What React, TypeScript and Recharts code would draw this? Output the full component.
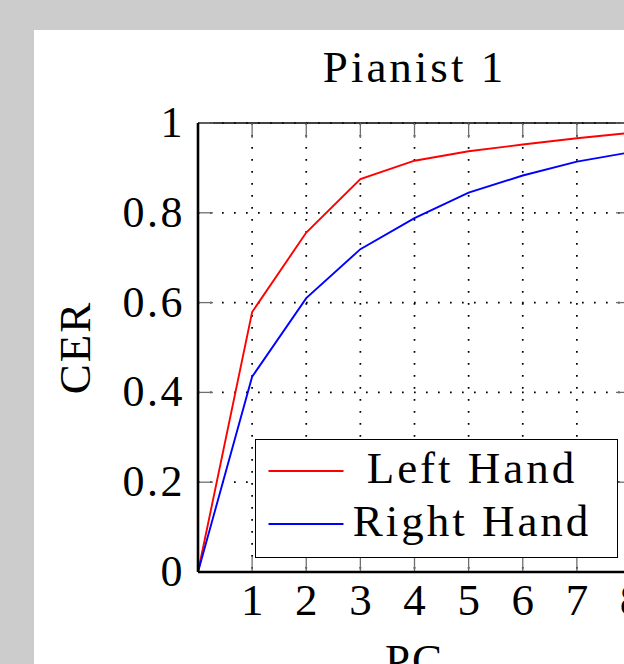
import React from 'react';
import { LineChart, Line, XAxis, YAxis, CartesianGrid, Legend } from 'recharts';

// ---- data ----
const pcValues = [0, 1, 2, 3, 4, 5, 6, 7, 8];
const leftHand = [0, 0.579, 0.756, 0.875, 0.916, 0.937, 0.952, 0.966, 0.978];
const rightHand = [0, 0.435, 0.61, 0.719, 0.788, 0.845, 0.883, 0.914, 0.935];
const xTicks = [1, 2, 3, 4, 5, 6, 7, 8];
const yTicks = [0, 0.2, 0.4, 0.6, 0.8, 1];
const seriesNames = ['Left Hand', 'Right Hand'];
const chartTitle = 'Pianist 1';
const xLabel = 'PC';
const yLabel = 'CER';

const data = pcValues.map((pc, i) => ({ pc, left: leftHand[i], right: rightHand[i] }));

const FONT = "'Liberation Serif', 'Times New Roman', serif";
const TICK_GRAY = '#6f6f6f';

const XTick = (props: any) => (
  <text x={props.x} y={props.y} dy={43} textAnchor="middle" fontFamily={FONT} fontSize={45} fill="#000">
    {props.payload.value}
  </text>
);

const YTick = (props: any) => (
  <text x={props.x} y={props.y} dy={14} textAnchor="end" fontFamily={FONT} fontSize={44} fill="#000" style={{ letterSpacing: 2.5 }}>
    {String(props.payload.value)}
  </text>
);

const EmptyTick = () => <g />;

const renderYLabel = (props: any) => {
  const vb = props.viewBox ?? { x: 0, y: 0, width: 0, height: 0 };
  const cx = vb.x + vb.width - 108;
  const cy = vb.y + vb.height / 2;
  return (
    <text x={cx} y={cy} transform={`rotate(-90, ${cx}, ${cy})`} textAnchor="middle" fontFamily={FONT} fontSize={45} fill="#000" style={{ letterSpacing: 2 }}>
      {yLabel}
    </text>
  );
};

const renderXLabel = (props: any) => {
  const vb = props.viewBox ?? { x: 0, y: 0, width: 0, height: 0 };
  const cx = vb.x + vb.width / 2;
  return (
    <text x={cx} y={vb.y + 103} textAnchor="middle" fontFamily={FONT} fontSize={45} fill="#000" style={{ letterSpacing: 2 }}>
      {xLabel}
    </text>
  );
};

const LegendBox = (props: any) => {
  const payload = props.payload || [];
  return (
    <div
      style={{
        boxSizing: 'border-box',
        width: 363,
        height: 119,
        border: '1.5px solid #000',
        background: '#fff',
        paddingTop: 4,
      }}
    >
      {payload.map((entry: any) => (
        <div key={entry.value} style={{ display: 'flex', alignItems: 'center', height: 53 }}>
          <svg width={90} height={10} style={{ flex: 'none', display: 'block' }}>
            <line x1={12.5} x2={87.5} y1={5} y2={5} stroke={entry.color} strokeWidth={1.8} />
          </svg>
          <span
            style={{
              flex: 1,
              textAlign: 'center',
              paddingRight: 19,
              fontFamily: FONT,
              fontSize: 45,
              lineHeight: '53px',
              letterSpacing: 3,
              color: '#000',
              position: 'relative',
              top: -2,
              whiteSpace: 'nowrap',
            }}
          >
            {entry.value}
          </span>
        </div>
      ))}
    </div>
  );
};

export default function App() {
  return (
    <div
      style={{
        position: 'fixed',
        left: 0,
        top: 0,
        width: 624,
        height: 664,
        background: '#cccccc',
        overflow: 'hidden',
      }}
    >
      <div style={{ position: 'absolute', left: 34, top: 30, width: 700, height: 700, background: '#ffffff' }} />
      <div
        style={{
          position: 'absolute',
          left: 198,
          width: 433,
          top: 42,
          textAlign: 'center',
          fontFamily: FONT,
          fontSize: 45,
          lineHeight: '50px',
          letterSpacing: 3,
          color: '#000',
          whiteSpace: 'nowrap',
        }}
      >
        {chartTitle}
      </div>
      <div style={{ position: 'absolute', left: 0, top: 0 }}>
        <LineChart width={700} height={664} data={data} margin={{ top: 123, right: 69, bottom: 0, left: 0 }}>
          <CartesianGrid stroke="#000" strokeWidth={1.7} strokeDasharray="1.7 10.3" />
          {/* inward tick marks on all four sides */}
          <XAxis
            xAxisId="top"
            orientation="top"
            mirror
            type="number"
            dataKey="pc"
            domain={[0, 8]}
            ticks={xTicks}
            tick={<EmptyTick />}
            tickSize={15}
            tickLine={{ stroke: TICK_GRAY, strokeWidth: 1.3 }}
            axisLine={{ stroke: '#000', strokeWidth: 1.6 }}
            allowDataOverflow
          />
          <XAxis
            xAxisId="bottomIn"
            orientation="bottom"
            mirror
            type="number"
            dataKey="pc"
            domain={[0, 8]}
            ticks={xTicks}
            tick={<EmptyTick />}
            tickSize={15}
            tickLine={{ stroke: TICK_GRAY, strokeWidth: 1.3 }}
            axisLine={false}
            allowDataOverflow
          />
          <YAxis
            yAxisId="leftIn"
            orientation="left"
            mirror
            type="number"
            domain={[0, 1]}
            ticks={yTicks}
            tick={<EmptyTick />}
            tickSize={15}
            tickLine={{ stroke: TICK_GRAY, strokeWidth: 1.3 }}
            axisLine={false}
            allowDataOverflow
          />
          <YAxis
            yAxisId="rightIn"
            orientation="right"
            mirror
            type="number"
            domain={[0, 1]}
            ticks={yTicks}
            tick={<EmptyTick />}
            tickSize={15}
            tickLine={{ stroke: TICK_GRAY, strokeWidth: 1.3 }}
            axisLine={{ stroke: '#000', strokeWidth: 1.6 }}
            allowDataOverflow
          />
          {/* main labelled axes */}
          <XAxis
            dataKey="pc"
            type="number"
            domain={[0, 8]}
            ticks={xTicks}
            height={92}
            tickSize={0}
            tickMargin={0}
            tickLine={false}
            axisLine={{ stroke: '#000', strokeWidth: 2.6 }}
            tick={<XTick />}
            label={renderXLabel}
            allowDataOverflow
          />
          <YAxis
            type="number"
            domain={[0, 1]}
            ticks={yTicks}
            width={198}
            tickSize={0}
            tickMargin={13}
            tickLine={false}
            axisLine={{ stroke: '#000', strokeWidth: 2.6 }}
            tick={<YTick />}
            label={renderYLabel}
            allowDataOverflow
          />
          <Line
            type="linear"
            dataKey="left"
            name={seriesNames[0]}
            stroke="#ff0000"
            strokeWidth={1.9}
            dot={false}
            isAnimationActive={false}
          />
          <Line
            type="linear"
            dataKey="right"
            name={seriesNames[1]}
            stroke="#0000ff"
            strokeWidth={1.9}
            dot={false}
            isAnimationActive={false}
          />
          <Legend
            layout="horizontal"
            align="center"
            verticalAlign="middle"
            content={<LegendBox />}
            wrapperStyle={{ left: 255, top: 439, width: 363, height: 119 }}
          />
        </LineChart>
      </div>
    </div>
  );
}
